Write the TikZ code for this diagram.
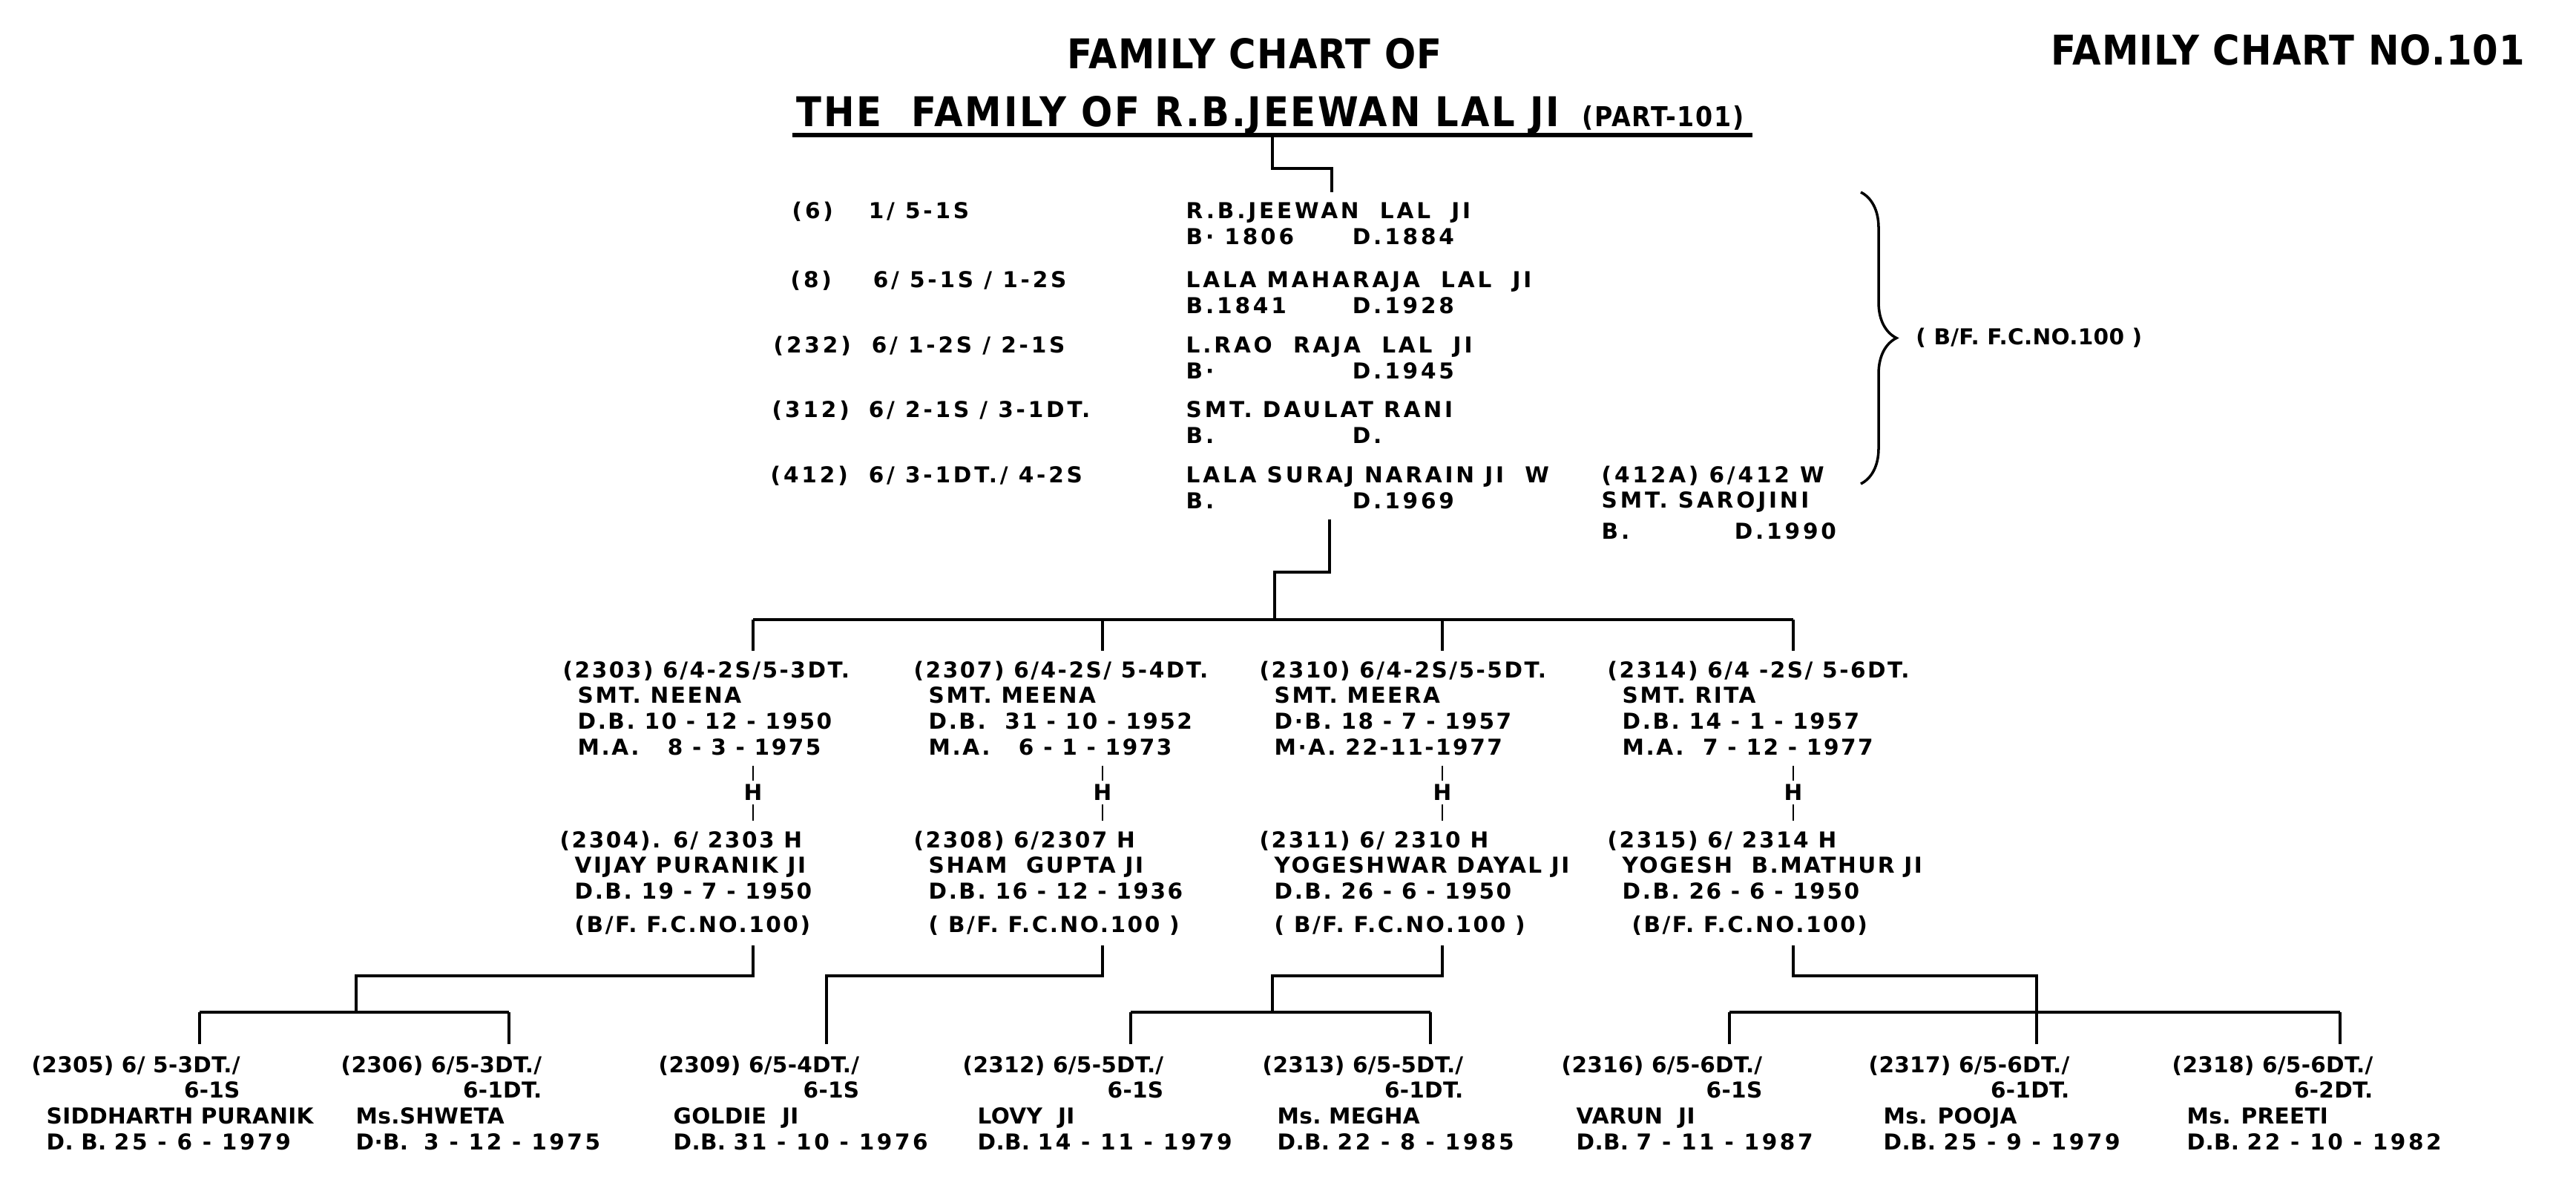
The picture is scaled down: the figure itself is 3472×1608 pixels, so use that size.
\documentclass[tikz,border=0pt]{standalone}
\usepackage{fontspec}
\newfontfamily\kidfont{DejaVu Sans}[LetterSpace=1]
\newfontfamily\pairfont{DejaVu Sans}[LetterSpace=8.5]
\newfontfamily\topfont{DejaVu Sans}[LetterSpace=13]
\newfontfamily\datefont{DejaVu Sans}[LetterSpace=12]
\newfontfamily\headfont{DejaVu Sans}[FakeStretch=0.9,LetterSpace=2]
\newfontfamily\titlefont{DejaVu Sans}[FakeStretch=0.9,LetterSpace=5]
\usetikzlibrary{calc,decorations.pathreplacing}

\newcommand{\kidcode}[2]{\begin{tabular}[b]{@{}r@{}}#1\\#2\end{tabular}}
\newcommand{\bdate}[3][2.24cm]{\makebox[#1][l]{#2}#3}
\newcommand{\dmy}[1]{{\datefont\bfseries #1}}
\newcommand{\inset}{\hspace*{0.2cm}}

\tikzset{
	heading/.style={font=\headfont\bfseries\fontsize{15.7}{18}\selectfont},
	entry/.style={anchor=north west, align=left, inner xsep=0pt, inner ysep=0.13cm},
	topentry/.style={entry, font=\topfont\bfseries\fontsize{8.4}{9.9}\selectfont},
	couple/.style={entry, font=\pairfont\bfseries\fontsize{8.4}{9.9}\selectfont},
	hmark/.style={inner xsep=0.05cm, inner ysep=0.05cm},
	link/.style={line width=1.1pt},
	sibbar/.style={line width=1.3pt},
	hline/.style={line width=0.6pt}
}

\begin{document}
\begin{tikzpicture}[x=0.01cm, y=-0.01cm, font=\kidfont\bfseries\fontsize{8.4}{9.9}\selectfont]
	\path[fill=white] (0,0) rectangle (3472,1608);
	\useasboundingbox (0,0) rectangle (3472,1608);

	% headings
	\node[heading, anchor=base] (head) at (1691,92) {FAMILY CHART OF};
	\node[heading, anchor=base west] (chartno) at (2752,87) {FAMILY CHART NO.101};
	\node[heading, font=\titlefont\bfseries\fontsize{15.7}{18}\selectfont, anchor=base west, inner sep=0pt] (title) at (1073,170)
		{THE\ \ FAMILY OF R.B.JEEWAN LAL JI\hspace{0.3cm}{\fontsize{10.5}{12}\selectfont(PART-101)}};
	\draw[line width=1.6pt] ([xshift=-0.05cm]title.south west) -- coordinate (ulmid) ([xshift=0.1cm]title.south east);

	% line of descent
	\node[topentry] (code6) at (1067,258) {\makebox[1.03cm][l]{(6)}1/ 5-1S};
	\node[topentry] (p6) at (1598,259) {R.B.JEEWAN\ \ LAL\ \ JI\\\bdate{B· 1806}{D.1884}};
	\node[topentry] (code8) at (1065,351) {\makebox[1.11cm][l]{(8)}6/ 5-1S / 1-2S};
	\node[topentry] (p8) at (1598,352) {LALA MAHARAJA\ \ LAL\ \ JI\\\bdate{B.1841}{D.1928}};
	\node[topentry] (code232) at (1042,439) {\makebox[1.32cm][l]{(232)}6/ 1-2S / 2-1S};
	\node[topentry] (p232) at (1598,440) {L.RAO\ \ RAJA\ \ LAL\ \ JI\\\bdate{B·}{D.1945}};
	\node[topentry] (code312) at (1040,526) {\makebox[1.3cm][l]{(312)}6/ 2-1S / 3-1DT.};
	\node[topentry] (p312) at (1598,527) {SMT. DAULAT RANI\\\bdate{B.}{D.}};
	\node[topentry] (code412) at (1038,614) {\makebox[1.32cm][l]{(412)}6/ 3-1DT./ 4-2S};
	\node[topentry] (p412) at (1598,615) {LALA SURAJ NARAIN JI\ \ W\\\bdate{B.}{D.1969}};
	\node[topentry] (p412a) at (2158,614) {(412A) 6/412 W\\SMT. SAROJINI\\[0.07cm]\bdate[1.79cm]{B.}{D.1990}};

	\coordinate (bt) at (2508,259);
	\coordinate (bb) at (2508,652);
	\draw[line width=1pt, decorate, decoration={brace, amplitude=0.48cm}] (bt) -- coordinate (bmid) (bb);
	\node[anchor=west] (bfref) at ([xshift=0.62cm]bmid) {( B/F. F.C.NO.100 )};

	\coordinate (t6) at ([xshift=1.97cm]p6.north west);
	\draw[link] (ulmid) -- ++(0,45) -| (t6);

	% daughters
	\node[couple] (d2303) at (758,877) {(2303) 6/4-2S/5-3DT.\\\inset SMT. NEENA\\\inset D.B. 10 - 12 - 1950\\\inset M.A.\ \ \ 8 - 3 - 1975};
	\node[couple] (d2307) at (1231,877) {(2307) 6/4-2S/ 5-4DT.\\\inset SMT. MEENA\\\inset D.B.\ \ 31 - 10 - 1952\\\inset M.A.\ \ \ 6 - 1 - 1973};
	\node[couple] (d2310) at (1697,877) {(2310) 6/4-2S/5-5DT.\\\inset SMT. MEERA\\\inset D·B. 18 - 7 - 1957\\\inset M·A. 22-11-1977};
	\node[couple] (d2314) at (2166,877) {(2314) 6/4 -2S/ 5-6DT.\\\inset SMT.\ RITA\\\inset D.B. 14 - 1 - 1957\\\inset M.A.\ \ 7 - 12 - 1977};

	\node[hmark] (m2303) at (1015,1068) {H};
	\node[hmark] (m2307) at (1486,1068) {H};
	\node[hmark] (m2310) at (1944,1068) {H};
	\node[hmark] (m2314) at (2417,1068) {H};

	% husbands
	\node[couple] (h2304) at (754,1106) {(2304). 6/ 2303\ H\\\inset VIJAY\ PURANIK JI\\\inset D.B. 19 - 7 - 1950\\[0.1cm]\inset(B/F. F.C.NO.100)};
	\node[couple] (h2308) at (1231,1106) {(2308)\ 6/2307 H\\\inset SHAM\ \ GUPTA JI\\\inset D.B. 16 - 12 - 1936\\[0.1cm]\inset( B/F. F.C.NO.100 )};
	\node[couple] (h2311) at (1697,1106) {(2311) 6/ 2310 H\\\inset YOGESHWAR DAYAL JI\\\inset D.B. 26 - 6 - 1950\\[0.1cm]\inset( B/F. F.C.NO.100 )};
	\node[couple] (h2315) at (2166,1106) {(2315) 6/ 2314 H\\\inset YOGESH\ \ B.MATHUR JI\\\inset D.B. 26 - 6 - 1950\\[0.1cm]\inset\ (B/F. F.C.NO.100)};

	% grandchildren
	\node[entry] (c2305) at (42,1407) {\kidcode{(2305) 6/ 5-3DT./}{6-1S}\\\inset SIDDHARTH PURANIK\\\inset D. B. \dmy{25 - 6 - 1979}};
	\node[entry] (c2306) at (459,1407) {\kidcode{(2306) 6/5-3DT./}{6-1DT.}\\\inset Ms.SHWETA\\\inset D·B.\ \ \dmy{3 - 12 - 1975}};
	\node[entry] (c2309) at (887,1407) {\kidcode{(2309) 6/5-4DT./}{6-1S}\\\inset GOLDIE\ \ JI\\\inset D.B. \dmy{31 - 10 - 1976}};
	\node[entry] (c2312) at (1297,1407) {\kidcode{(2312) 6/5-5DT./}{6-1S}\\\inset LOVY\ \ JI\\\inset D.B. \dmy{14 - 11 - 1979}};
	\node[entry] (c2313) at (1701,1407) {\kidcode{(2313)\ 6/5-5DT./}{6-1DT.}\\\inset Ms.\ MEGHA\\\inset D.B. \dmy{22 - 8 - 1985}};
	\node[entry] (c2316) at (2104,1407) {\kidcode{(2316) 6/5-6DT./}{6-1S}\\\inset VARUN\ \ JI\\\inset D.B.\ \dmy{7 - 11 - 1987}};
	\node[entry] (c2317) at (2518,1407) {\kidcode{(2317) 6/5-6DT./}{6-1DT.}\\\inset Ms. POOJA\\\inset D.B. \dmy{25 - 9 - 1979}};
	\node[entry] (c2318) at (2927,1407) {\kidcode{(2318) 6/5-6DT./}{6-2DT.}\\\inset Ms. PREETI\\\inset D.B. \dmy{22 - 10 - 1982}};

	% connectors
	\coordinate (t412) at ([xshift=1.94cm]p412.south west);
	\coordinate (bar2) at (1718,835);
	\coordinate (lvl3) at (0,1315);
	\coordinate (lvl4) at (0,1364);
	\coordinate (j2304) at (480,1364);
	\coordinate (j2311) at (1715,1364);
	\coordinate (t2305) at ([xshift=2.27cm]c2305.north west);
	\coordinate (t2306) at ([xshift=2.27cm]c2306.north west);
	\coordinate (t2309) at ([xshift=2.27cm]c2309.north west);
	\coordinate (t2312) at ([xshift=2.27cm]c2312.north west);
	\coordinate (t2313) at ([xshift=2.27cm]c2313.north west);
	\coordinate (t2316) at ([xshift=2.27cm]c2316.north west);
	\coordinate (t2317) at ([xshift=2.27cm]c2317.north west);
	\coordinate (t2318) at ([xshift=2.27cm]c2318.north west);

	\draw[link] (t412) -- ++(0,71) -| (bar2);
	\draw[sibbar] (m2303 |- bar2) -- (m2314 |- bar2);
	\path[link]
	(m2303 |- bar2) edge (m2303 |- d2303.north)
	(m2307 |- bar2) edge (m2307 |- d2307.north)
	(m2310 |- bar2) edge (m2310 |- d2310.north)
	(m2314 |- bar2) edge (m2314 |- d2314.north);
	\path[hline]
	(m2303 |- d2303.south) edge (m2303) (m2303) edge (m2303 |- h2304.north)
	(m2307 |- d2307.south) edge (m2307) (m2307) edge (m2307 |- h2308.north)
	(m2310 |- d2310.south) edge (m2310) (m2310) edge (m2310 |- h2311.north)
	(m2314 |- d2314.south) edge (m2314) (m2314) edge (m2314 |- h2315.north);

	\draw[link] (m2303 |- h2304.south) -- (m2303 |- lvl3) -| (j2304);
	\draw[link] (m2307 |- h2308.south) -- (m2307 |- lvl3) -| (t2309);
	\draw[link] (m2310 |- h2311.south) -- (m2310 |- lvl3) -| (j2311);
	\draw[link] (m2314 |- h2315.south) -- (m2314 |- lvl3) -| (t2317);

	\draw[sibbar] (t2305 |- lvl4) -- (t2306 |- lvl4);
	\draw[sibbar] (t2312 |- lvl4) -- (t2313 |- lvl4);
	\draw[sibbar] (t2316 |- lvl4) -- (t2318 |- lvl4);
	\path[link]
	(t2305 |- lvl4) edge (t2305)
	(t2306 |- lvl4) edge (t2306)
	(t2312 |- lvl4) edge (t2312)
	(t2313 |- lvl4) edge (t2313)
	(t2316 |- lvl4) edge (t2316)
	(t2318 |- lvl4) edge (t2318);
\end{tikzpicture}
\end{document}
